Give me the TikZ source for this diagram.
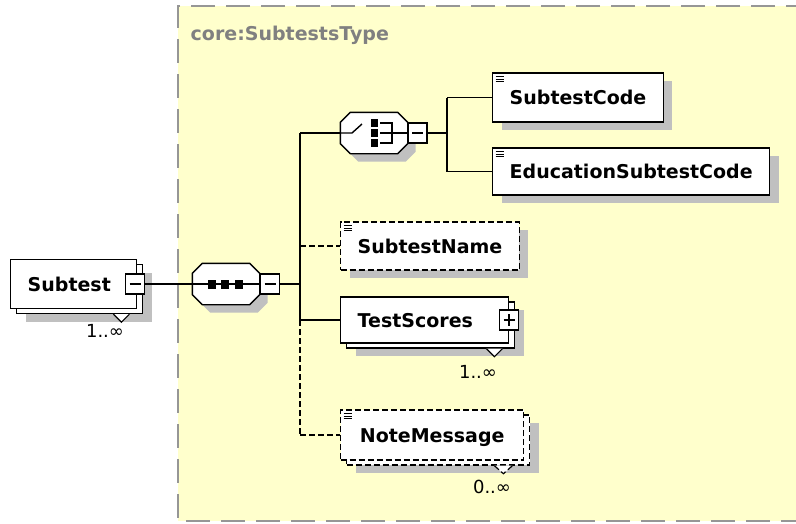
\documentclass[tikz,border=0pt]{standalone}
\usepackage{fontspec}
\setmainfont{DejaVu Sans}
\usetikzlibrary{shadows}
\definecolor{paper}{RGB}{255,255,204}
\definecolor{shade}{RGB}{192,192,192}
\definecolor{frame}{RGB}{150,150,150}
\definecolor{caption}{RGB}{128,128,128}
% octagon drawn round a compositor node
\newcommand\octagon[1]{%
  \draw[octa] ([xshift=10pt]#1.north west) -- ([xshift=-10pt]#1.north east)
    -- ([yshift=-10pt]#1.north east) -- ([yshift=10pt]#1.south east)
    -- ([xshift=-10pt]#1.south east) -- ([xshift=10pt]#1.south west)
    -- ([yshift=10pt]#1.south west) -- ([yshift=-10pt]#1.north west) -- cycle;}

\begin{document}
\begin{tikzpicture}[x=1pt, y=-1pt, line width=1.4pt,
  elembase/.style={draw, fill=white, anchor=west, inner xsep=17pt, inner ysep=0pt,
    minimum height=48pt, text height=14pt, text depth=0pt,
    font=\bfseries\fontsize{19}{22}\selectfont},
  elem/.style={elembase, general shadow={fill=shade, draw=none, shadow xshift=9pt, shadow yshift=-8pt}},
  multi/.style={elembase, general shadow={fill=shade, draw=none, shadow xshift=15pt, shadow yshift=-13pt},
    copy shadow={shadow xshift=6pt, shadow yshift=-5pt}},
  optional/.style={dash pattern=on 6pt off 3pt},
  annot/.style={path picture={\foreach \k in {0,1,2}
    \draw[line width=1pt, solid] ([shift={(3,3.5+2.5*\k)}]path picture bounding box.north west) -- ++(8,0);}},
  pmbox/.style={draw, fill=white, minimum width=19pt, minimum height=20pt, inner sep=0pt, line width=1.2pt},
  minusbox/.style={pmbox, path picture={\draw ([xshift=4pt]path picture bounding box.west) -- ([xshift=-4pt]path picture bounding box.east);}},
  plusbox/.style={pmbox, path picture={\draw ([xshift=4pt]path picture bounding box.west) -- ([xshift=-4pt]path picture bounding box.east);
    \draw ([yshift=-4pt]path picture bounding box.north) -- ([yshift=4pt]path picture bounding box.south);}},
  compo/.style={minimum width=66pt, minimum height=40pt, inner sep=0pt},
  octa/.style={draw, fill=white, general shadow={fill=shade, draw=none, shadow xshift=8pt, shadow yshift=-8pt}},
  card/.style={inner sep=0pt, font=\fontsize{18}{20}\selectfont}]
  \useasboundingbox (0,0) rectangle (796,523);

  % complex type area
  \fill[paper] (178,6) rectangle (810,521);
  \draw[frame, line width=2pt, dash pattern=on 24pt off 11pt] (810,6) -- (178,6) -- (178,521) -- (810,521);
  \node[anchor=west, inner sep=0pt, text=caption, font=\bfseries\fontsize{19}{22}\selectfont] (title) at (190,35) {core:SubtestsType};

  % root element
  \node[multi, text width=92pt, align=left, minimum height=49pt] (sub) at (10,284) {Subtest};
  \draw[fill=white, line width=1.2pt] ([shift={(-24,5)}]sub.south east) -- ++(8,8) -- ++(8,-8);
  \node[minusbox] (subm) at (135,284) {};
  \node[card] (subcard) at (105,331) {1..∞};

  % sequence
  \node[compo] (seq) at (226,284) {};
  \octagon{seq}
  \node[minusbox] (seqm) at (270,284) {};
  \draw (seq.west) -- (seq.east);
  \begin{scope}[shift={(seq.center)}]
    \foreach \dx in {-14.5,-1,12.5}
      \fill (\dx-4,-4.5) rectangle (\dx+4,4.5);
  \end{scope}

  % choice
  \node[compo] (cho) at (374,133) {};
  \octagon{cho}
  \node[minusbox] (chom) at (417.5,133) {};
  \begin{scope}[shift={(cho.center)}]
    \draw (cho.west) -- (-22,0) -- (-12,-9);
    \foreach \dy in {-10,0,10}
      \fill (-3.5,\dy-4) rectangle (3.5,\dy+4);
    \draw (6,-10) -- (18,-10) -- (18,10) -- (6,10);
    \draw (6,0) -- (18,0) -- (chom.west);
  \end{scope}

  % child elements
  \node[elem, annot, minimum height=49pt] (code) at (492,97.5) {SubtestCode};
  \node[elem, annot, minimum height=47pt] (edu) at (492,171.5) {EducationSubtestCode};
  \node[elem, annot, optional] (name) at (340,246) {SubtestName};
  \node[multi, text width=134pt, align=left, minimum height=46pt] (scores) at (340,320) {TestScores};
  \draw[fill=white, line width=1.2pt] ([shift={(-23,5)}]scores.south east) -- ++(8,8) -- ++(8,-8);
  \node[plusbox] (scoresp) at (509,320) {};
  \node[card] (scorescard) at (478,372) {1..∞};
  \node[multi, annot, optional, minimum width=183pt, minimum height=50pt] (note) at (340,435) {NoteMessage};
  \draw[fill=white, line width=1.2pt, optional] ([shift={(-30,5)}]note.south east) -- ++(9,8) -- ++(9,-8);
  \node[card] (notecard) at (492,487) {0..∞};

  % connectors
  \coordinate (hub) at (300,284);
  \coordinate (ta) at (300,133);
  \coordinate (tb) at (300,246);
  \coordinate (tc) at (300,320);
  \coordinate (td) at (300,435);
  \coordinate (ca) at (447,133);
  \coordinate (cb) at (447,97.5);
  \coordinate (cc) at (447,171.5);
  \draw (subm.east) -- (seq.west);
  \draw (seqm.east) -- (hub);
  \draw (ta) -- (tc);
  \draw[optional] (tc) -- (td);
  \draw (ta) -- (cho.west);
  \draw[optional] (tb) -- (name.west);
  \draw (tc) -- (scores.west);
  \draw[optional] (td) -- (note.west);
  \draw (chom.east) -- (ca);
  \draw (cb) -- (cc);
  \draw (cb) -- (code.west);
  \draw (cc) -- (edu.west);
\end{tikzpicture}
\end{document}
